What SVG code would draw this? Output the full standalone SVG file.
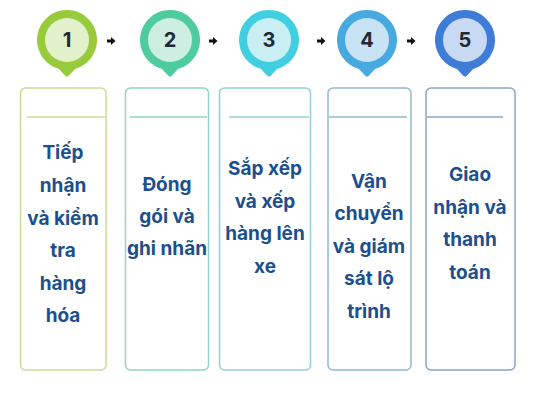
<svg xmlns="http://www.w3.org/2000/svg" xmlns:xlink="http://www.w3.org/1999/xlink" width="533" height="400" viewBox="0 0 533 400">
<style>
.box{fill:#ffffff;stroke-width:1.5}
.div{stroke-width:1.5}
.num{font-family:Inter,"Liberation Sans",sans-serif;font-weight:700;font-size:20px;fill:#1f2a36;text-anchor:middle}
.lbl{font-family:Inter,"Liberation Sans",sans-serif;font-weight:700;font-size:19px;fill:#1b4f8d;text-anchor:middle}
.arr{fill:#111111}
</style>
<defs>
<path id="pin" d="M -8,28.9 A 30 30 0 1 1 8,28.9 L 2,35.5 Q 0,37.8 -2,35.5 Z"/>
<path id="ar" d="M 0,-1.5 L 4,-1.5 L 4,-4 L 8.5,0 L 4,4 L 4,1.5 L 0,1.5 Z"/>
</defs>
<rect width="533" height="400" fill="#ffffff"/>
<g id="connectors">
<use xlink:href="#ar" class="arr" transform="translate(107,41)"/>
<use xlink:href="#ar" class="arr" transform="translate(209,41)"/>
<use xlink:href="#ar" class="arr" transform="translate(317,41)"/>
<use xlink:href="#ar" class="arr" transform="translate(407,41)"/>
</g>
<g id="step1">
<use xlink:href="#pin" fill="#98cb3c" transform="translate(67,40)"/>
<circle cx="67" cy="40" r="22" fill="#e2f0cb"/>
<text class="num" x="67" y="47">1</text>
<rect class="box" x="20.5" y="88" width="85.5" height="282" rx="5" stroke="#cadc90"/>
<line class="div" x1="27" y1="117" x2="105" y2="117" stroke="#cadc90"/>
<text class="lbl" x="63" y="159">Tiếp</text>
<text class="lbl" x="63" y="192">nhận</text>
<text class="lbl" x="63" y="225">và kiểm</text>
<text class="lbl" x="63" y="257">tra</text>
<text class="lbl" x="63" y="290">hàng</text>
<text class="lbl" x="63" y="322">hóa</text>
</g>
<g id="step2">
<use xlink:href="#pin" fill="#4ecc9d" transform="translate(170,40)"/>
<circle cx="170" cy="40" r="22" fill="#cdeee0"/>
<text class="num" x="170" y="47">2</text>
<rect class="box" x="125.5" y="88" width="83" height="282" rx="5" stroke="#93d3c5"/>
<line class="div" x1="130" y1="117" x2="207" y2="117" stroke="#93d3c5"/>
<text class="lbl" x="167" y="191">Đóng</text>
<text class="lbl" x="167" y="223">gói và</text>
<text class="lbl" x="167" y="255">ghi nhãn</text>
</g>
<g id="step3">
<use xlink:href="#pin" fill="#40cfe0" transform="translate(269,40)"/>
<circle cx="269" cy="40" r="22" fill="#c9eef4"/>
<text class="num" x="269" y="47">3</text>
<rect class="box" x="219.5" y="88" width="91" height="282" rx="5" stroke="#93d0d8"/>
<line class="div" x1="229" y1="117" x2="309" y2="117" stroke="#93d0d8"/>
<text class="lbl" x="265" y="175">Sắp xếp</text>
<text class="lbl" x="265" y="208">và xếp</text>
<text class="lbl" x="265" y="240">hàng lên</text>
<text class="lbl" x="265" y="273">xe</text>
</g>
<g id="step4">
<use xlink:href="#pin" fill="#46a9df" transform="translate(367,40)"/>
<circle cx="367" cy="40" r="22" fill="#c7e3f4"/>
<text class="num" x="367" y="47">4</text>
<rect class="box" x="328" y="88" width="83" height="282" rx="5" stroke="#8dbad0"/>
<line class="div" x1="329" y1="117" x2="407" y2="117" stroke="#8dbad0"/>
<text class="lbl" x="369" y="188">Vận</text>
<text class="lbl" x="369" y="220">chuyển</text>
<text class="lbl" x="369" y="253">và giám</text>
<text class="lbl" x="369" y="285">sát lộ</text>
<text class="lbl" x="369" y="318">trình</text>
</g>
<g id="step5">
<use xlink:href="#pin" fill="#3f7cd7" transform="translate(465,40)"/>
<circle cx="465" cy="40" r="22" fill="#c8d9f3"/>
<text class="num" x="465" y="47">5</text>
<rect class="box" x="426" y="88" width="89" height="282" rx="5" stroke="#86a8c8"/>
<line class="div" x1="427" y1="117" x2="503" y2="117" stroke="#86a8c8"/>
<text class="lbl" x="470" y="181">Giao</text>
<text class="lbl" x="470" y="214">nhận và</text>
<text class="lbl" x="470" y="246">thanh</text>
<text class="lbl" x="470" y="279">toán</text>
</g>
</svg>
